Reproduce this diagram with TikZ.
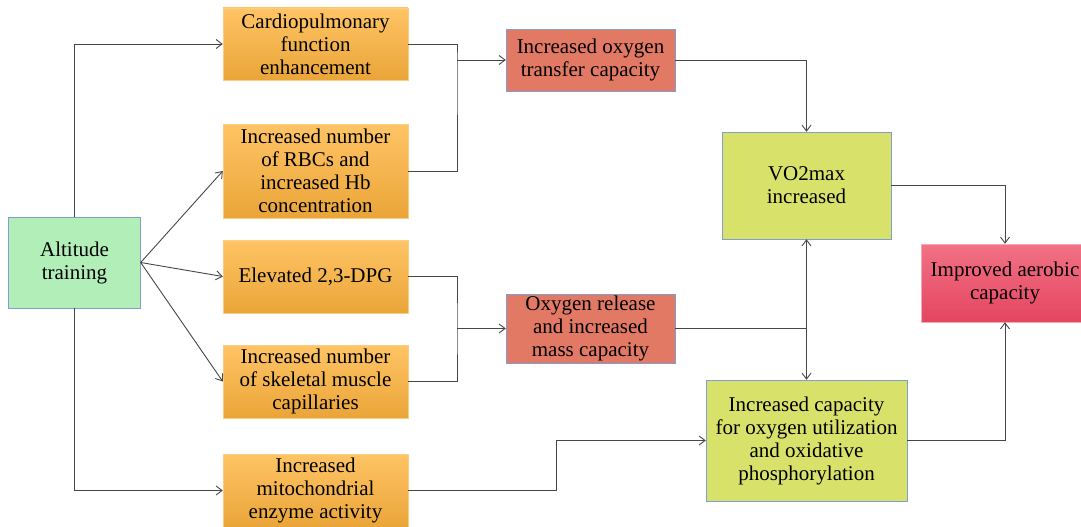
\documentclass[tikz,border=0pt]{standalone}
\usepackage{fontspec}
\setmainfont{Liberation Serif}
\usetikzlibrary{arrows.meta}
\definecolor{boxline}{RGB}{127,159,208}
\definecolor{altgreen}{RGB}{178,238,184}
\definecolor{orangetop}{RGB}{255,196,101}
\definecolor{orangebot}{RGB}{234,165,56}
\definecolor{orangeline}{RGB}{250,205,130}
\definecolor{brick}{RGB}{226,121,101}
\definecolor{lime}{RGB}{216,226,106}
\definecolor{pinktop}{RGB}{242,114,133}
\definecolor{pinkbot}{RGB}{228,69,96}
\definecolor{pinkline}{RGB}{245,170,180}
\definecolor{link}{RGB}{70,70,70}
\tikzset{
	every box/.style={
		rectangle,
		draw,
		align=center,
		inner sep=2pt,
		text=black,
		font=\fontsize{21}{23}\selectfont
	},
	box green/.style={fill=altgreen, draw=boxline},
	box orange/.style={top color=orangetop, bottom color=orangebot, draw=orangeline, minimum width=185},
	box brick/.style={fill=brick, draw=boxline, minimum width=169},
	box lime/.style={fill=lime, draw=boxline},
	box pink/.style={top color=pinktop, bottom color=pinkbot, draw=pinkline},
	every link/.style={draw=link, line width=0.9pt},
}

\begin{document}
\begin{tikzpicture}[x=1pt, y=-1pt, >={Straight Barb[length=6pt, width=9pt]}]

\useasboundingbox (0,0) rectangle (1081,527);

\node [every box, box green, minimum width=132, minimum height=91] (alt) at (74.5,262.5) {Altitude\\training};

\foreach \n/\y/\h/\t in {card/44/72/{Cardiopulmonary\\function\\enhancement},
		rbc/171/94/{Increased number\\of RBCs and\\increased Hb\\concentration},
		dpg/276.5/73/{Elevated 2,3-DPG},
		capil/381.5/73/{Increased number\\of skeletal muscle\\capillaries},
		mito/490.5/73/{Increased\\mitochondrial\\enzyme activity}}
	\node [every box, box orange, minimum height=\h] (\n) at (315.5,\y) {\t};

\node [every box, box brick, minimum height=62] (transfer) at (590.5,60) {Increased oxygen\\transfer capacity};
\node [every box, box brick, minimum height=69] (release) at (590.5,328.5) {Oxygen release\\and increased\\mass capacity};

\node [every box, box lime, minimum width=169, minimum height=107] (vomax) at (806.5,185.5) {VO2max\\increased};
\node [every box, box lime, minimum width=201, minimum height=121] (util) at (806.5,440.5) {Increased capacity\\for oxygen utilization\\and oxidative\\phosphorylation};

\node [every box, box pink, minimum width=168, minimum height=78] (aerobic) at (1005,283) {Improved aerobic\\capacity};

\coordinate (jo) at (457,60);
\coordinate (jr) at (457,328.5);
\coordinate (jv) at (806.5,328.5);
\coordinate (jm) at (556,440.5);

\draw [every link, ->] (alt.north) |- (card.west);
\draw [every link, ->] (alt.south) |- (mito.west);
\foreach \j in {rbc, dpg, capil}
	\draw [every link, ->] (alt.east) -- (\j.west);

\draw [every link] (card.east) -| (jo) |- (rbc.east);
\draw [every link, ->] (jo) -- (transfer.west);
\draw [every link] (dpg.east) -| (jr) |- (capil.east);
\draw [every link, ->] (jr) -- (release.west);

\draw [every link, ->] (transfer.east) -| (vomax.north);
\draw [every link] (release.east) -- (jv);
\draw [every link, ->] (jv) -- (vomax.south);
\draw [every link, ->] (jv) -- (util.north);
\draw [every link, ->] (mito.east) -| (jm) -- (util.west);

\draw [every link, ->] (vomax.east) -| (aerobic.north);
\draw [every link, ->] (util.east) -| (aerobic.south);

\end{tikzpicture}
\end{document}
